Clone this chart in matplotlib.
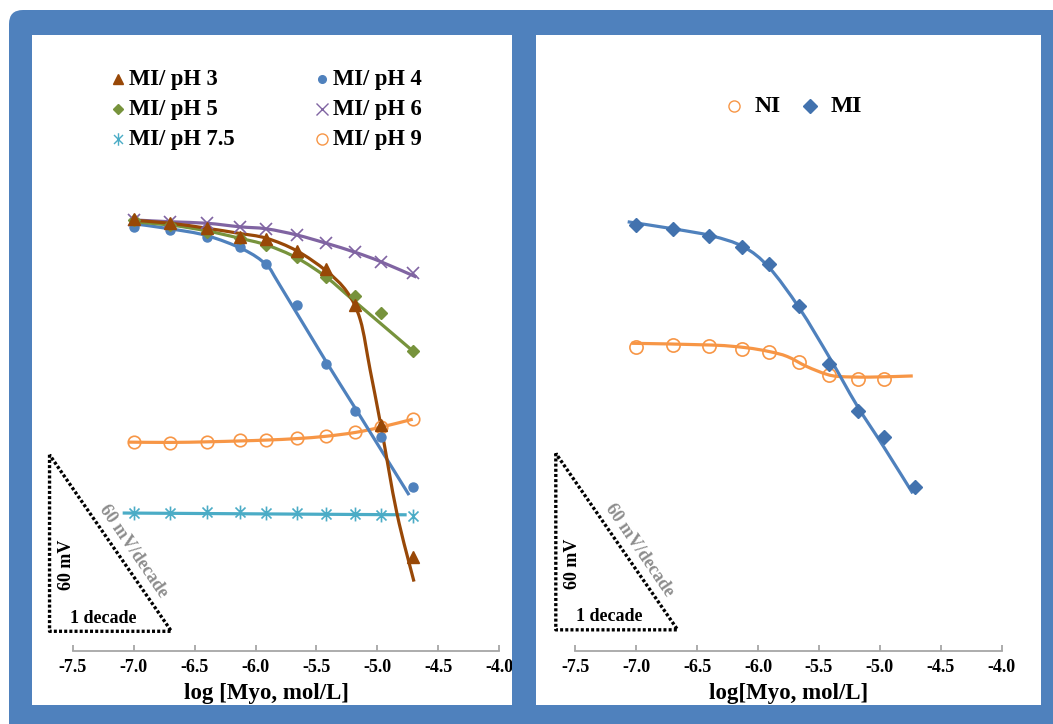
import matplotlib
matplotlib.use("Agg")
import matplotlib.pyplot as plt
import numpy as np
from matplotlib.patches import FancyBboxPatch, Rectangle, PathPatch
from matplotlib.path import Path
from matplotlib.lines import Line2D
from matplotlib.transforms import IdentityTransform, Affine2D, Bbox

# ---------------- data ----------------
LOG_C = [-7.00, -6.70, -6.40, -6.13, -5.91, -5.66, -5.42, -5.18, -4.97, -4.71]

# potentials (mV, relative) measured with the MI sensor at different pH
E_PH3 = [146.2, 144.8, 143.1, 140.1, 139.4, 135.3, 129.1, 116.9, 76.1, 31.4]
E_PH4 = [143.5, 142.4, 140.1, 136.5, 130.8, 116.9, 96.8, 81.0, 72.0, 55.0]
E_PH5 = [145.8, 144.1, 141.8, 139.6, 137.3, 133.2, 126.3, 120.0, 114.1, 101.3]
E_PH6 = [145.8, 145.2, 144.7, 143.5, 142.8, 140.7, 137.9, 134.8, 131.6, 127.7]
E_PH75 = [46.1, 46.3, 46.5, 46.5, 46.1, 46.1, 45.9, 45.9, 45.5, 45.2]
E_PH9 = [70.3, 69.9, 70.5, 71.0, 71.0, 71.6, 72.4, 73.7, 75.6, 78.1]

# fitted response curves (knots)
FIT_PH3_X = [-7.03, -6.70, -6.40, -6.14, -5.91, -5.66, -5.42, -5.25, -5.14, -5.06, -4.97, -4.84, -4.70]
FIT_PH3_Y = [145.8, 144.7, 143.0, 141.3, 139.6, 135.3, 128.5, 121.4, 111.8, 94.9, 75.6, 46.1, 22.9]
FIT_PH4_X = [-7.03, -6.70, -6.40, -6.10, -5.91, -5.80, -5.42, -5.18, -4.74]
FIT_PH4_Y = [144.7, 142.8, 140.5, 135.8, 130.5, 123.6, 97.6, 81.7, 52.3]
FIT_PH5_X = [-7.03, -6.70, -6.40, -6.14, -5.91, -5.66, -5.42, -5.20, -4.97, -4.71]
FIT_PH5_Y = [145.2, 144.1, 142.1, 139.7, 137.3, 132.9, 126.4, 118.6, 110.5, 101.3]
FIT_PH6_X = [-7.03, -6.70, -6.40, -6.13, -5.91, -5.66, -5.42, -5.18, -4.97, -4.68]
FIT_PH6_Y = [145.9, 145.2, 144.7, 143.5, 142.8, 140.7, 137.9, 134.8, 131.6, 126.4]
FIT_PH75_X = [-7.09, -4.76]
FIT_PH75_Y = [46.2, 45.6]
FIT_PH9_X = [-7.04, -6.70, -6.40, -6.13, -5.91, -5.66, -5.42, -5.18, -4.97, -4.71]
FIT_PH9_Y = [70.3, 70.2, 70.4, 70.7, 71.0, 71.5, 72.3, 73.6, 75.4, 78.1]

# MI vs NI comparison
E_MI = [144.1, 142.6, 140.4, 136.5, 130.9, 116.7, 96.9, 81.0, 71.9, 55.0]
E_NI = [102.8, 103.3, 103.0, 101.9, 100.8, 97.7, 93.1, 91.8, 91.8]
FIT_MI_X = [-7.07, -6.68, -6.38, -6.12, -5.91, -5.66, -5.41, -5.19, -4.97, -4.73]
FIT_MI_Y = [145.2, 142.7, 140.4, 136.7, 129.7, 115.8, 98.8, 82.9, 68.8, 52.9]
FIT_NI_X = [-7.04, -6.38, -6.10, -5.91, -5.76, -5.60, -5.44, -5.33, -5.08, -4.73]
FIT_NI_Y = [103.9, 103.3, 102.4, 101.1, 99.4, 96.0, 93.4, 92.6, 92.4, 92.8]

X_TICKS = [-7.5, -7.0, -6.5, -6.0, -5.5, -5.0, -4.5, -4.0]
LEFT_LABELS = ["MI/ pH 3", "MI/ pH 4", "MI/ pH 5", "MI/ pH 6", "MI/ pH 7.5", "MI/ pH 9"]
RIGHT_LABELS = ["NI", "MI"]

# ---------------- style ----------------
W, H, DPI = 1053, 724, 100
FRAME = "#4F81BD"
C_PH3 = "#984807"
C_PH4 = "#4F81BD"
C_PH5 = "#77933C"
C_PH6 = "#8064A2"
C_PH75 = "#4BACC6"
C_PH9 = "#F79646"
C_MI_LINE = "#4F81BD"
C_MI_MARK = "#4272AE"
C_NI = "#F79646"
AXIS_GRAY = "#A6A6A6"
SLOPE_GRAY = "#8C8C8C"
LW = 2.3

plt.rcParams["font.family"] = ["Liberation Serif", "DejaVu Serif"]
plt.rcParams["font.weight"] = "bold"

# six-armed star marker (vertical bar + cross)
STAR = Path([(0, -1), (0, 1), (-0.72, -0.72), (0.72, 0.72), (-0.72, 0.72), (0.72, -0.72)],
            [Path.MOVETO, Path.LINETO, Path.MOVETO, Path.LINETO, Path.MOVETO, Path.LINETO])

fig = plt.figure(figsize=(W / DPI, H / DPI), dpi=DPI)
fig.patch.set_facecolor("white")

# pixel coordinates measured from the top-left corner
PX = Affine2D().scale(1, -1).translate(0, H) + IdentityTransform()

fig.add_artist(FancyBboxPatch((9, -40), W + 40, H - 10 + 40,
                              boxstyle="round,pad=0,rounding_size=14",
                              transform=IdentityTransform(), facecolor=FRAME,
                              edgecolor="none", zorder=-3))
PANELS = [(32, 512), (536, 1041)]
for x0, x1 in PANELS:
    fig.add_artist(Rectangle((x0, H - 705), x1 - x0, 705 - 35, transform=IdentityTransform(),
                             facecolor="white", edgecolor="none", zorder=-2))


def smooth_path(xs, ys):
    """Cubic Bezier path through the knots (Catmull-Rom tangents)."""
    p = np.column_stack([xs, ys]).astype(float)
    n = len(p)
    verts = [p[0]]
    codes = [Path.MOVETO]
    for i in range(n - 1):
        p0 = p[max(i - 1, 0)]
        p1 = p[i]
        p2 = p[i + 1]
        p3 = p[min(i + 2, n - 1)]
        verts += [p1 + (p2 - p0) / 6.0, p2 - (p3 - p1) / 6.0, p2]
        codes += [Path.CURVE4] * 3
    return Path(verts, codes)


def add_curve(ax, xs, ys, color, z=2):
    ax.add_patch(PathPatch(smooth_path(xs, ys), fill=False, edgecolor=color,
                           lw=LW, capstyle="butt", zorder=z))


def make_axes(left_px, right_px, panel):
    ax = fig.add_axes([left_px / W, 1 - 651 / H, (right_px - left_px) / W, (651 - 165) / H])
    ax.set_xlim(-7.5, -4.0)
    ax.set_ylim(-0.7, 164.5)
    ax.patch.set_visible(False)
    for s in ("top", "right", "left"):
        ax.spines[s].set_visible(False)
    ax.spines["bottom"].set_color(AXIS_GRAY)
    ax.spines["bottom"].set_linewidth(1.3)
    ax.set_yticks([])
    ax.set_xticks(X_TICKS)
    ax.set_xticklabels([f"{t:.1f}" for t in X_TICKS])
    ax.tick_params(axis="x", direction="in", length=4, width=1.3, color=AXIS_GRAY,
                   labelsize=13, pad=6)
    clip = Bbox.from_extents(panel[0], H - 705, panel[1], H - 35)
    for lab in ax.get_xticklabels():
        lab.set_fontweight("bold")
        lab.set_clip_box(clip)
        lab.set_clip_on(True)
    return ax


def slope_triangle(ax, x0, y0):
    ax.plot([x0, x0, x0 + 1.0, x0], [y0 + 60, y0, y0, y0 + 60], color="black",
            lw=2.4, ls=(0, (0.9, 0.65)), clip_on=False, zorder=1)
    ax.text(x0 + 0.14, y0 + 22.5, "60 mV", rotation=90, ha="center", va="center",
            fontsize=13, fontweight="bold", color="black")
    ax.text(x0 + 0.44, y0 + 4.4, "1 decade", ha="center", va="center",
            fontsize=13, fontweight="bold", color="black")
    ax.text(x0 + 0.685, y0 + 27.1, "60 mV/decade", rotation=-55.6, rotation_mode="anchor",
            ha="center", va="center", fontsize=13, fontweight="bold", color=SLOPE_GRAY)


# ---------------- left panel: pH study ----------------
axL = make_axes(72.7, 499.3, PANELS[0])
add_curve(axL, FIT_PH75_X, FIT_PH75_Y, C_PH75)
add_curve(axL, FIT_PH9_X, FIT_PH9_Y, C_PH9)
add_curve(axL, FIT_PH4_X, FIT_PH4_Y, C_PH4)
add_curve(axL, FIT_PH5_X, FIT_PH5_Y, C_PH5)
add_curve(axL, FIT_PH6_X, FIT_PH6_Y, C_PH6)
add_curve(axL, FIT_PH3_X, FIT_PH3_Y, C_PH3)

axL.plot(LOG_C, E_PH75, ls="none", marker=STAR, ms=10, mec=C_PH75, mfc="none", mew=1.2, zorder=3)
axL.plot(LOG_C, E_PH9, ls="none", marker="o", ms=9, mec=C_PH9, mfc="none", mew=1.2, zorder=3)
axL.plot(LOG_C, E_PH4, ls="none", marker="o", ms=6.5, mec=C_PH4, mfc=C_PH4, zorder=3)
axL.plot(LOG_C, E_PH5, ls="none", marker="D", ms=6.5, mec=C_PH5, mfc=C_PH5, zorder=3)
axL.plot(LOG_C, E_PH6, ls="none", marker="x", ms=9, mec=C_PH6, mew=1.2, zorder=3)
axL.plot(LOG_C, E_PH3, ls="none", marker="^", ms=8.5, mec=C_PH3, mfc=C_PH3, zorder=3)

slope_triangle(axL, -7.69, 6.0)
axL.set_xlabel("log [Myo, mol/L]", fontsize=16.5, fontweight="bold")
axL.xaxis.set_label_coords((266 - 72.7) / 426.6, -(693 - 651) / 486)
axL.xaxis.label.set_va("center")

# legend (two columns)
left_keys = [
    (dict(marker="^", ms=7, mfc=C_PH3, mec=C_PH3), 118.3, 79),
    (dict(marker="o", ms=5.5, mfc=C_PH4, mec=C_PH4), 321.7, 79),
    (dict(marker="D", ms=5.5, mfc=C_PH5, mec=C_PH5), 118.3, 109),
    (dict(marker="x", ms=8, mec=C_PH6, mew=1.0), 321.7, 109),
    (dict(marker=STAR, ms=9, mec=C_PH75, mfc="none", mew=1.0), 118.3, 139),
    (dict(marker="o", ms=8, mec=C_PH9, mfc="none", mew=1.0), 321.7, 139),
]
for (kw, x, y), label in zip(left_keys, LEFT_LABELS):
    fig.add_artist(Line2D([x], [y], ls="none", transform=PX, **kw))
    fig.text(x + 11, y, label, transform=PX, ha="left", va="center",
             fontsize=16.3, fontweight="bold", color="black")

# ---------------- right panel: MI vs NI ----------------
axR = make_axes(575.3, 1001.7, PANELS[1])
add_curve(axR, FIT_NI_X, FIT_NI_Y, C_NI)
add_curve(axR, FIT_MI_X, FIT_MI_Y, C_MI_LINE)
axR.plot(LOG_C[:len(E_NI)], E_NI, ls="none", marker="o", ms=9.5, mec=C_NI, mfc="none",
         mew=1.2, zorder=3)
axR.plot(LOG_C, E_MI, ls="none", marker="D", ms=7.5, mec=C_MI_MARK, mfc=C_MI_MARK, zorder=3)

slope_triangle(axR, -7.66, 6.5)
axR.set_xlabel("log[Myo, mol/L]", fontsize=16.5, fontweight="bold")
axR.xaxis.set_label_coords(0.5, -(693 - 651) / 486)
axR.xaxis.label.set_va("center")

right_keys = [
    (dict(marker="o", ms=8, mec=C_NI, mfc="none", mew=1.0), 734, 106),
    (dict(marker="D", ms=7, mec=C_MI_MARK, mfc=C_MI_MARK), 810, 106),
]
for (kw, x, y), label in zip(right_keys, RIGHT_LABELS):
    fig.add_artist(Line2D([x], [y], ls="none", transform=PX, **kw))
    fig.text(x + 21, y, label, transform=PX, ha="left", va="center",
             fontsize=17, fontweight="bold", color="black")

fig.savefig("out.png", dpi=DPI, facecolor="white")
